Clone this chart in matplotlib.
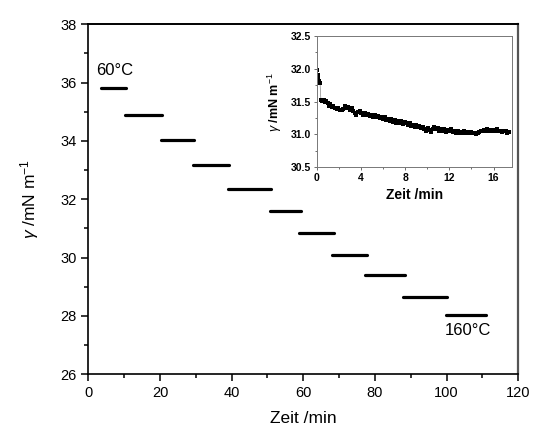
import numpy as np
import matplotlib
matplotlib.use("Agg")
import matplotlib.pyplot as plt
from matplotlib.ticker import MultipleLocator

plt.rcParams['font.family'] = ['Liberation Sans', 'DejaVu Sans']
plt.rcParams['mathtext.fontset'] = 'custom'
plt.rcParams['mathtext.rm'] = 'Liberation Sans'
plt.rcParams['mathtext.it'] = 'Liberation Sans:italic'
plt.rcParams['mathtext.bf'] = 'Liberation Sans:bold'

# plateau segments: start time, end time, surface tension
seg_start = [3.6, 10.3, 20.4, 29.1, 38.9, 50.6, 58.7, 68.0, 77.2, 87.8, 99.9]
seg_end = [10.6, 20.7, 29.4, 39.4, 50.9, 59.3, 68.5, 77.8, 88.4, 100.1, 111.0]
seg_gamma = [35.83, 34.90, 34.03, 33.19, 32.37, 31.60, 30.84, 30.10, 29.39, 28.65, 28.02]

# inset: single temperature run
ins_t = [0.00, 0.08, 0.15, 0.22, 0.30, 0.38, 0.50, 0.62, 0.75, 0.88, 1.00, 1.10, 1.20,
         1.35, 1.50, 1.65, 1.80, 1.95, 2.10, 2.25, 2.40, 2.55, 2.70, 2.85, 3.00, 3.15,
         3.30, 3.45, 3.60, 3.75, 3.90, 4.05, 4.20, 4.35, 4.50, 4.65, 4.80, 4.95, 5.10,
         5.25, 5.40, 5.55, 5.70, 5.85, 6.00, 6.15, 6.30, 6.45, 6.60, 6.75, 6.90, 7.05,
         7.20, 7.35, 7.50, 7.65, 7.80, 7.95, 8.10, 8.25, 8.40, 8.55, 8.70, 8.85, 9.00,
         9.15, 9.30, 9.45, 9.60, 9.75, 9.90, 10.05, 10.20, 10.35, 10.50, 10.65, 10.80,
         10.95, 11.10, 11.25, 11.40, 11.55, 11.70, 11.85, 12.00, 12.15, 12.30, 12.45,
         12.60, 12.75, 12.90, 13.05, 13.20, 13.35, 13.50, 13.65, 13.80, 13.95, 14.10,
         14.25, 14.40, 14.55, 14.70, 14.85, 15.00, 15.15, 15.30, 15.45, 15.60, 15.75,
         15.90, 16.05, 16.20, 16.35, 16.50, 16.65, 16.80, 16.95, 17.10, 17.25, 17.40]
ins_gamma = [31.98, 31.90, 31.86, 31.82, 31.79, 31.52, 31.51, 31.52, 31.50, 31.51, 31.48,
             31.44, 31.46, 31.42, 31.44, 31.40, 31.39, 31.41, 31.38, 31.37, 31.39, 31.44,
             31.41, 31.42, 31.38, 31.41, 31.36, 31.33, 31.30, 31.34, 31.36, 31.32, 31.30,
             31.33, 31.29, 31.31, 31.28, 31.30, 31.27, 31.29, 31.26, 31.28, 31.25, 31.27,
             31.23, 31.26, 31.22, 31.24, 31.20, 31.23, 31.19, 31.22, 31.18, 31.21, 31.17,
             31.20, 31.16, 31.19, 31.17, 31.15, 31.18, 31.13, 31.15, 31.12, 31.14, 31.11,
             31.13, 31.10, 31.12, 31.08, 31.06, 31.10, 31.07, 31.04, 31.09, 31.11, 31.08,
             31.10, 31.06, 31.09, 31.05, 31.08, 31.04, 31.07, 31.05, 31.08, 31.04, 31.06,
             31.03, 31.05, 31.02, 31.04, 31.03, 31.05, 31.02, 31.04, 31.03, 31.04, 31.02,
             31.03, 31.01, 31.02, 31.04, 31.06, 31.05, 31.07, 31.06, 31.08, 31.06, 31.07,
             31.05, 31.07, 31.06, 31.08, 31.05, 31.06, 31.04, 31.06, 31.05, 31.03, 31.04]

fig = plt.figure(figsize=(5.33, 4.30), dpi=100)
ax = fig.add_axes([0.1657, 0.1295, 0.8067, 0.814])

for x0, x1, g in zip(seg_start, seg_end, seg_gamma):
    ax.plot([x0, x1], [g, g], color='black', lw=2.3, solid_capstyle='round')

ax.set_xlim(0, 120)
ax.set_ylim(26, 38)
ax.xaxis.set_major_locator(MultipleLocator(20))
ax.xaxis.set_minor_locator(MultipleLocator(10))
ax.yaxis.set_major_locator(MultipleLocator(2))
ax.yaxis.set_minor_locator(MultipleLocator(1))
ax.tick_params(which='both', direction='out', top=False, right=False, labelsize=10.5, width=1.1)
ax.tick_params(which='major', length=5)
ax.tick_params(which='minor', length=3)
for s in ax.spines.values():
    s.set_linewidth(1.2)
ax.spines['top'].set_linewidth(1.4)
ax.spines['right'].set_color('#555555')
ax.spines['right'].set_linewidth(1.6)

ax.set_xlabel('Zeit /min', fontsize=12.5, labelpad=8)
ax.set_ylabel(r'$\gamma$ /mN m$^{-1}$', fontsize=12.5, labelpad=14)

ax.text(2.3, 36.15, '60°C', fontsize=12, ha='left', va='bottom')
ax.text(99.5, 27.75, '160°C', fontsize=12, ha='left', va='top')

# inset
ins = fig.add_axes([0.5942, 0.6109, 0.367, 0.3053])
ins.plot(ins_t, ins_gamma, color='#888888', lw=0.5, marker='s', ms=2.8,
         mfc='black', mec='black', mew=0)
ins.set_xlim(0, 17.7)
ins.set_ylim(30.5, 32.5)
ins.xaxis.set_major_locator(MultipleLocator(4))
ins.xaxis.set_minor_locator(MultipleLocator(2))
ins.yaxis.set_major_locator(MultipleLocator(0.5))
ins.yaxis.set_minor_locator(MultipleLocator(0.25))
ins.yaxis.set_major_formatter(matplotlib.ticker.FormatStrFormatter('%.1f'))
ins.tick_params(which='both', direction='out', top=False, right=False, labelsize=7.5,
                width=0.6, pad=1.5, color='#555555')
ins.tick_params(which='major', length=2.5)
ins.tick_params(which='minor', length=1.5)
for lab in ins.get_xticklabels() + ins.get_yticklabels():
    lab.set_fontweight('bold')
for s in ins.spines.values():
    s.set_linewidth(0.7)
    s.set_color('#777777')
ins.set_xlabel('Zeit /min', fontsize=10, fontweight='bold', labelpad=4)
ins.set_ylabel(r'$\gamma$ /mN m$^{-1}$', fontsize=9, fontweight='bold', labelpad=5)

fig.savefig('out.png', dpi=100)
